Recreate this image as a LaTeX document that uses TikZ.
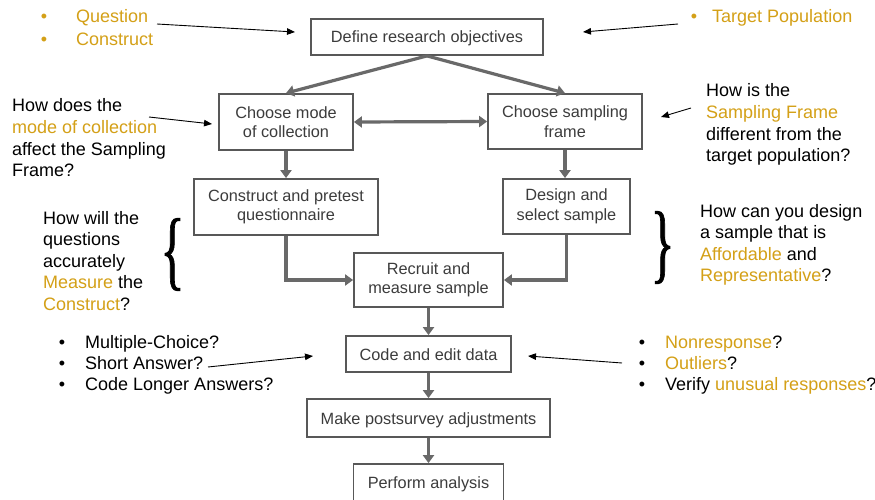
\documentclass[tikz,border=0pt]{standalone}
\usepackage{fontspec}
\setmainfont{Liberation Sans}
\newfontfamily\bracefont[FakeBold=1.2]{Liberation Serif}
\usetikzlibrary{arrows.meta}
\definecolor{gold}{RGB}{212,160,23}
\definecolor{boxline}{RGB}{88,88,88}
\definecolor{boxtext}{RGB}{60,60,60}
\definecolor{flowarrow}{RGB}{105,105,105}
\newcommand{\gd}[1]{\textcolor{gold}{#1}}
\begin{document}
\begin{tikzpicture}[x=1pt,y=-1pt,
  box/.style={draw=boxline, line width=1.8pt, fill=white, inner sep=0pt, align=center,
    text=boxtext, font=\fontsize{16.3}{19.5}\selectfont},
  onebox/.style={box, text height=12pt, text depth=0pt},
  flow/.style={draw=flowarrow, line width=3.2pt, -{Triangle[length=8pt,width=11pt]}},
  note/.style={draw=black, line width=0.9pt, -{Triangle[length=8pt,width=6.5pt]}},
  txt/.style={anchor=base west, inner sep=0pt, font=\fontsize{18}{21.5}\selectfont, text=black},
  bul/.style={anchor=base, inner sep=0pt, font=\fontsize{18}{21.5}\selectfont, text=black},
  brace/.style={inner sep=0pt, text=black},
]
\fill[white] (0,0) rectangle (875,500);
\useasboundingbox (0,0) rectangle (875,500);

% boxes
\node[onebox, minimum width=232pt, minimum height=36pt] (def)   at (427,37)    {Define research objectives};
\node[box, minimum width=134pt, minimum height=56pt] (mode)  at (286,122)   {Choose mode\\of collection};
\node[box, minimum width=154pt, minimum height=55pt] (frame) at (565,121.5) {Choose sampling\\frame};
\node[box, minimum width=184pt, minimum height=56pt] (cons)  at (286,207)   {Construct and pretest\\questionnaire};
\node[box, minimum width=127pt, minimum height=55pt] (des)   at (566.5,206.5) {Design and\\select sample};
\node[box, minimum width=149pt, minimum height=54pt] (rec)   at (428.5,280) {Recruit and\\measure sample};
\node[onebox, minimum width=165pt, minimum height=36pt] (code)  at (428.5,354) {Code and edit data};
\node[onebox, minimum width=243pt, minimum height=38pt] (make)  at (428.5,418) {Make postsurvey adjustments};
\node[onebox, minimum width=150pt, minimum height=37pt] (perf)  at (428.5,482.5) {Perform analysis};

% flow connectors
\draw[flow] (def.south) -- (mode.north);
\draw[flow] (def.south) -- (frame.north);
\draw[flow, {Triangle[length=8pt,width=11pt]}-{Triangle[length=8pt,width=11pt]}] (mode.east) -- (frame.west);
\draw[flow] (mode.south) -- (cons.north);
\draw[flow] (frame.south) -- (frame.south |- des.north);
\draw[flow] (cons.south) |- (rec.west);
\draw[flow] (des.south) |- (rec.east);
\draw[flow] (rec.south) -- (code.north);
\draw[flow] (code.south) -- (make.north);
\draw[flow] (make.south) -- (perf.north);

% top-left bullets
\node[bul, text=gold] (qb1) at (44,23) {•};
\node[txt, text=gold] (qt1) at (76,23) {Question};
\node[bul, text=gold] (qb2) at (44,46) {•};
\node[txt, text=gold] (qt2) at (76,46) {Construct};
% top-right bullet
\node[bul, text=gold] (tb1) at (694,23) {•};
\node[txt, text=gold] (tt1) at (712,23) {Target Population};

% left question (mode)
\node[txt] (ml1) at (12,112) {How does the};
\node[txt, text=gold] (ml2) at (12,133.5) {mode of collection};
\node[txt] (ml3) at (12,155) {affect the Sampling};
\node[txt] (ml4) at (12,176.5) {Frame?};

% right question (frame)
\node[txt] (fr1) at (706,97) {How is the};
\node[txt, text=gold] (fr2) at (706,118.5) {Sampling Frame};
\node[txt] (fr3) at (706,140) {different from the};
\node[txt] (fr4) at (706,161.5) {target population?};

% left brace text
\node[txt] (wl1) at (43,224) {How will the};
\node[txt] (wl2) at (43,245.5) {questions};
\node[txt] (wl3) at (43,267) {accurately};
\node[txt] (wl4) at (43,288.5) {\gd{Measure} the};
\node[txt] (wl5) at (43,310) {\gd{Construct}?};

% right brace text
\node[txt] (cr1) at (700,217) {How can you design};
\node[txt] (cr2) at (700,238.5) {a sample that is};
\node[txt] (cr3) at (700,260) {\gd{Affordable} and};
\node[txt] (cr4) at (700,281.5) {\gd{Representative}?};

% braces
\node[brace] (lbrace) at (172.5,254.5) {\resizebox*{24pt}{72pt}{\bracefont\{}};
\node[brace] (rbrace) at (662.5,247.5) {\resizebox*{24pt}{72pt}{\bracefont\}}};

% bottom-left list
\node[bul] (lb1) at (62,348) {•};
\node[txt] (lt1) at (85,348) {Multiple-Choice?};
\node[bul] (lb2) at (62,369) {•};
\node[txt] (lt2) at (85,369) {Short Answer?};
\node[bul] (lb3) at (62,390) {•};
\node[txt] (lt3) at (85,390) {Code Longer Answers?};

% bottom-right list
\node[bul] (rb1) at (642,348) {•};
\node[txt] (rt1) at (665,348) {\gd{Nonresponse}?};
\node[bul] (rb2) at (642,369) {•};
\node[txt] (rt2) at (665,369) {\gd{Outliers}?};
\node[bul] (rb3) at (642,390) {•};
\node[txt] (rt3) at (665,390) {Verify \gd{unusual responses}?};

% annotation arrows
\coordinate (qa) at (157,24);  \coordinate (qz) at (295,32);
\coordinate (ta) at (678,24);  \coordinate (tz) at (583,32);
\coordinate (ma) at (149,117); \coordinate (mz) at (212,124);
\coordinate (sa) at (691,108); \coordinate (sz) at (661,117);
\coordinate (aa) at (208,367); \coordinate (az) at (313,356);
\coordinate (oa) at (622,363); \coordinate (oz) at (528,356);
\draw[note] (qa) -- (qz);
\draw[note] (ta) -- (tz);
\draw[note] (ma) -- (mz);
\draw[note] (sa) -- (sz);
\draw[note] (aa) -- (az);
\draw[note] (oa) -- (oz);
\end{tikzpicture}
\end{document}
